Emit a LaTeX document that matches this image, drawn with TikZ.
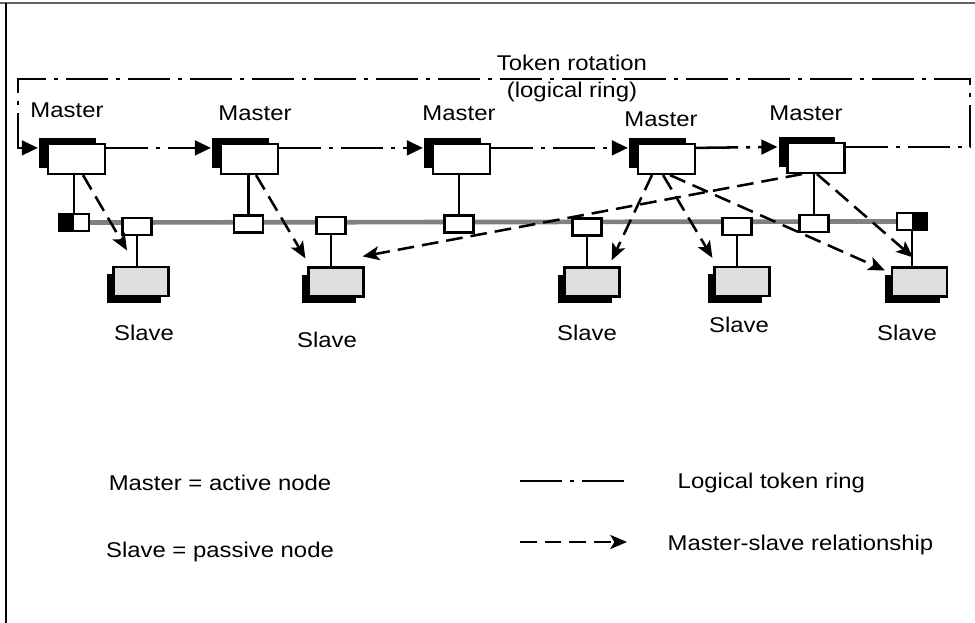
\documentclass[tikz,border=0pt]{standalone}
\usepackage{fontspec}
\setmainfont[FakeStretch=1.12]{Liberation Sans}
\usetikzlibrary{arrows.meta,shadows}

\begin{document}
\begin{tikzpicture}[x=0.75pt,y=-0.75pt,
    font=\fontsize{16pt}{20pt}\selectfont,
    master/.style={draw,line width=1.9pt,fill=white,inner sep=0pt,
      minimum width=42.5pt,minimum height=22.25pt,
      general shadow={fill=black,shadow xshift=-6.75pt,shadow yshift=4.5pt}},
    slave/.style={draw,line width=1.9pt,fill=black!13,inner sep=0pt,
      minimum width=41pt,minimum height=21.5pt,
      general shadow={fill=black,shadow xshift=-5.25pt,shadow yshift=-5.25pt}},
    tap/.style={draw,line width=1.9pt,fill=white,inner sep=0pt,
      minimum width=21.5pt,minimum height=12.5pt},
    term/.style={tap,minimum width=22.25pt},
    ring/.style={line width=1.9pt,dash pattern=on 31.5pt off 6pt on 3pt off 6pt},
    ringarrow/.style={ring,-{Triangle[length=12pt,width=11pt]}},
    ms/.style={line width=1.9pt,dash pattern=on 12.5pt off 6pt,
      -{Stealth[length=12.5pt,width=10.5pt,inset=3pt]}},
    stem/.style={line width=1.9pt},
    bus/.style={line width=3.5pt,black!50}]

    \useasboundingbox (0,0) rectangle (975,623);

    % Frame
    \draw[line width=1.5pt,black!60] (0,3) -- (975,3);
    \draw[line width=1.9pt] (6,3) -- (6,623);

    % Define some coordinates
    \coordinate (ringTR) at (970,79);
    \coordinate (ringTL) at (18,79);

    % Masters
    \node[master] (m1) at (76.5,159) {};
    \node[master] (m2) at (249.5,159) {};
    \node[master] (m3) at (461.5,159) {};
    \node[master] (m4) at (666.5,159) {};
    \node[master] (m5) at (816,158) {};

    % Label the masters
    \node (lm1) at (67,110) {Master};
    \node (lm2) at (255,113) {Master};
    \node (lm3) at (459,113) {Master};
    \node (lm4) at (661,119) {Master};
    \node (lm5) at (806,113) {Master};

    % Token ring
    \node[align=center] (token) at (572,78.5) {Token rotation\\(logical ring)};
    \draw[ringarrow] ([yshift=-3.75pt]m1.north east) -- ([xshift=-6.75pt,yshift=-3.75pt]m2.north west);
    \draw[ringarrow] ([yshift=-3.75pt]m2.north east) -- ([xshift=-6.75pt,yshift=-3.75pt]m3.north west);
    \draw[ringarrow] ([yshift=-3.75pt]m3.north east) -- ([xshift=-6.75pt,yshift=-3.75pt]m4.north west);
    \draw[ringarrow] ([yshift=-3.75pt]m4.north east) -- ([xshift=-6.75pt,yshift=-3.75pt]m5.north west);
    \draw[ringarrow] ([yshift=-3.75pt]m5.north east) -| (ringTR) -- (ringTL)
        |- ([xshift=-6.75pt,yshift=-3.75pt]m1.north west);

    % Bus with terminators
    \node[term,path picture={\fill[black] (path picture bounding box.south west)
        rectangle (path picture bounding box.north);}] (termL) at (74,222.5) {};
    \node[term,path picture={\fill[black] (path picture bounding box.south)
        rectangle (path picture bounding box.north east);}] (termR) at (912,221.5) {};
    \draw[bus] (termL.east) -- (termR.west);

    % Taps on the bus
    \node[tap] (t1) at (137,226.5) {};
    \node[tap] (tm2) at (248.5,224) {};
    \node[tap] (t2) at (331,225.5) {};
    \node[tap] (tm3) at (459,224) {};
    \node[tap] (t3) at (587,227) {};
    \node[tap] (t4) at (737,226.5) {};
    \node[tap] (tm5) at (814,223.5) {};

    % Slaves
    \node[slave] (s1) at (141,281.5) {};
    \node[slave] (s2) at (336,282) {};
    \node[slave] (s3) at (592,282) {};
    \node[slave] (s4) at (742,281.5) {};
    \node[slave] (s5) at (919.5,282) {};

    % Label the slaves
    \node (ls1) at (144,333) {Slave};
    \node (ls2) at (327,340) {Slave};
    \node (ls3) at (587,333) {Slave};
    \node (ls4) at (739,325) {Slave};
    \node (ls5) at (907,333) {Slave};

    % Stems to the bus
    \draw[stem] (termL.north |- m1.south) -- (termL.north);
    \draw[stem] (tm2.north |- m2.south) -- (tm2.north);
    \draw[stem] (tm3.north |- m3.south) -- (tm3.north);
    \draw[stem] (tm5.north |- m5.south) -- (tm5.north);
    \draw[stem] (t1.south) -- (t1.south |- s1.north);
    \draw[stem] (t2.south) -- (t2.south |- s2.north);
    \draw[stem] (t3.south) -- (t3.south |- s3.north);
    \draw[stem] (t4.south) -- (t4.south |- s4.north);
    \draw[stem] (termR.south) -- (termR.south |- s5.north);

    % Master-slave relationships
    \draw[ms] ([xshift=4.9pt]m1.south) -- ([xshift=-10.5pt,yshift=11.6pt]s1.north);
    \draw[ms] ([xshift=4.9pt]m2.south) -- ([xshift=-1.5pt,yshift=6pt]s2.north west);
    \draw[ms] ([xshift=-10.5pt]m5.south) -- ([xshift=-1.5pt,yshift=7.5pt]s2.north east);
    \draw[ms] ([xshift=-10.9pt]m4.south) -- ([xshift=-6.75pt,yshift=4.5pt]s3.north east);
    \draw[ms] ([xshift=-2.6pt]m4.south) -- ([xshift=-0.75pt,yshift=6pt]s4.north west);
    \draw[ms] ([xshift=2.6pt]m4.south) -- ([xshift=-4.5pt,yshift=-3pt]s5.north west);
    \draw[ms] ([xshift=0.75pt]m5.south) -- ([xshift=-4.9pt,yshift=6.75pt]s5.north);

    % Legend
    \node (legm) at (220,483) {Master = active node};
    \node (legs) at (220,552) {Slave = passive node};
    \coordinate (keyA) at (520,481);
    \coordinate (keyB) at (625,481);
    \draw[ring] (keyA) -- (keyB);
    \node[anchor=west] (legring) at (673,483) {Logical token ring};
    \coordinate (keyC) at (520,542);
    \coordinate (keyD) at (627,542);
    \draw[ms] (keyC) -- (keyD);
    \node[anchor=west] (legms) at (663,545) {Master-slave relationship};
\end{tikzpicture}
\end{document}
